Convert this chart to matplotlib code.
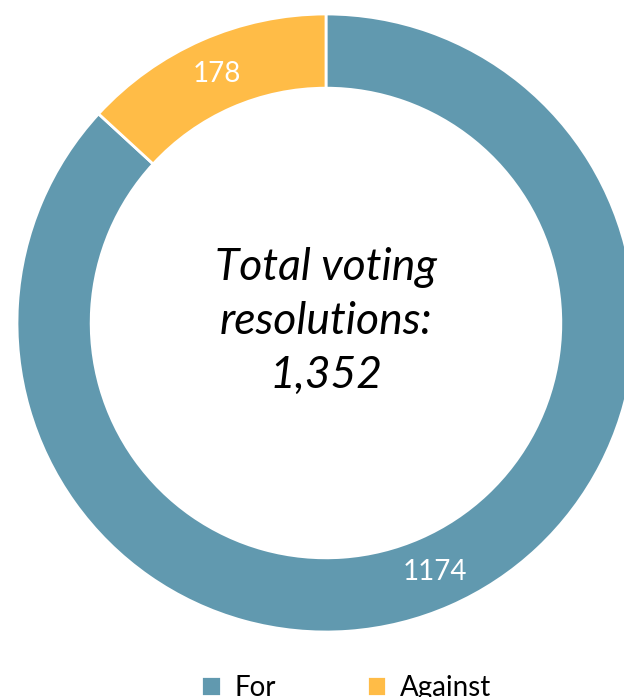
import matplotlib.pyplot as plt

# data
labels = ['For', 'Against']
votes = [1174, 178]
colors = ['#6199AF', '#FFBC47']
total = sum(votes)

fig = plt.figure(figsize=(6.24, 6.97), dpi=100)
ax = fig.add_axes([0, 0, 1, 1])

wedges, texts, autotexts = ax.pie(
    votes, colors=colors, startangle=90, counterclock=False,
    radius=1.0, autopct=lambda p: '{:.0f}'.format(p * total / 100),
    pctdistance=0.88,
    wedgeprops=dict(width=0.24, edgecolor='white', linewidth=2),
    textprops=dict(color='white', fontsize=20, family='Lato'))

# centre of ring at pixel (326, 323), radius 309 px
R = 309.0
ax.set_xlim(-326 / R, (624 - 326) / R)
ax.set_ylim((323 - 697) / R, 323 / R)
ax.set_aspect('auto')
ax.axis('off')

ax.text(0, 0.005, 'Total voting\nresolutions:\n{:,}'.format(total),
        ha='center', va='center', fontsize=32, style='italic',
        family='Lato', linespacing=1.4)

fig.legend(wedges, labels, loc='upper center', bbox_to_anchor=(0.555, 0.068),
           ncol=2, frameon=False, handlelength=0.7,
           handleheight=0.7, handletextpad=0.5, columnspacing=3.25,
           prop=dict(family='Lato', size=20))

plt.savefig('out.png', dpi=100)
